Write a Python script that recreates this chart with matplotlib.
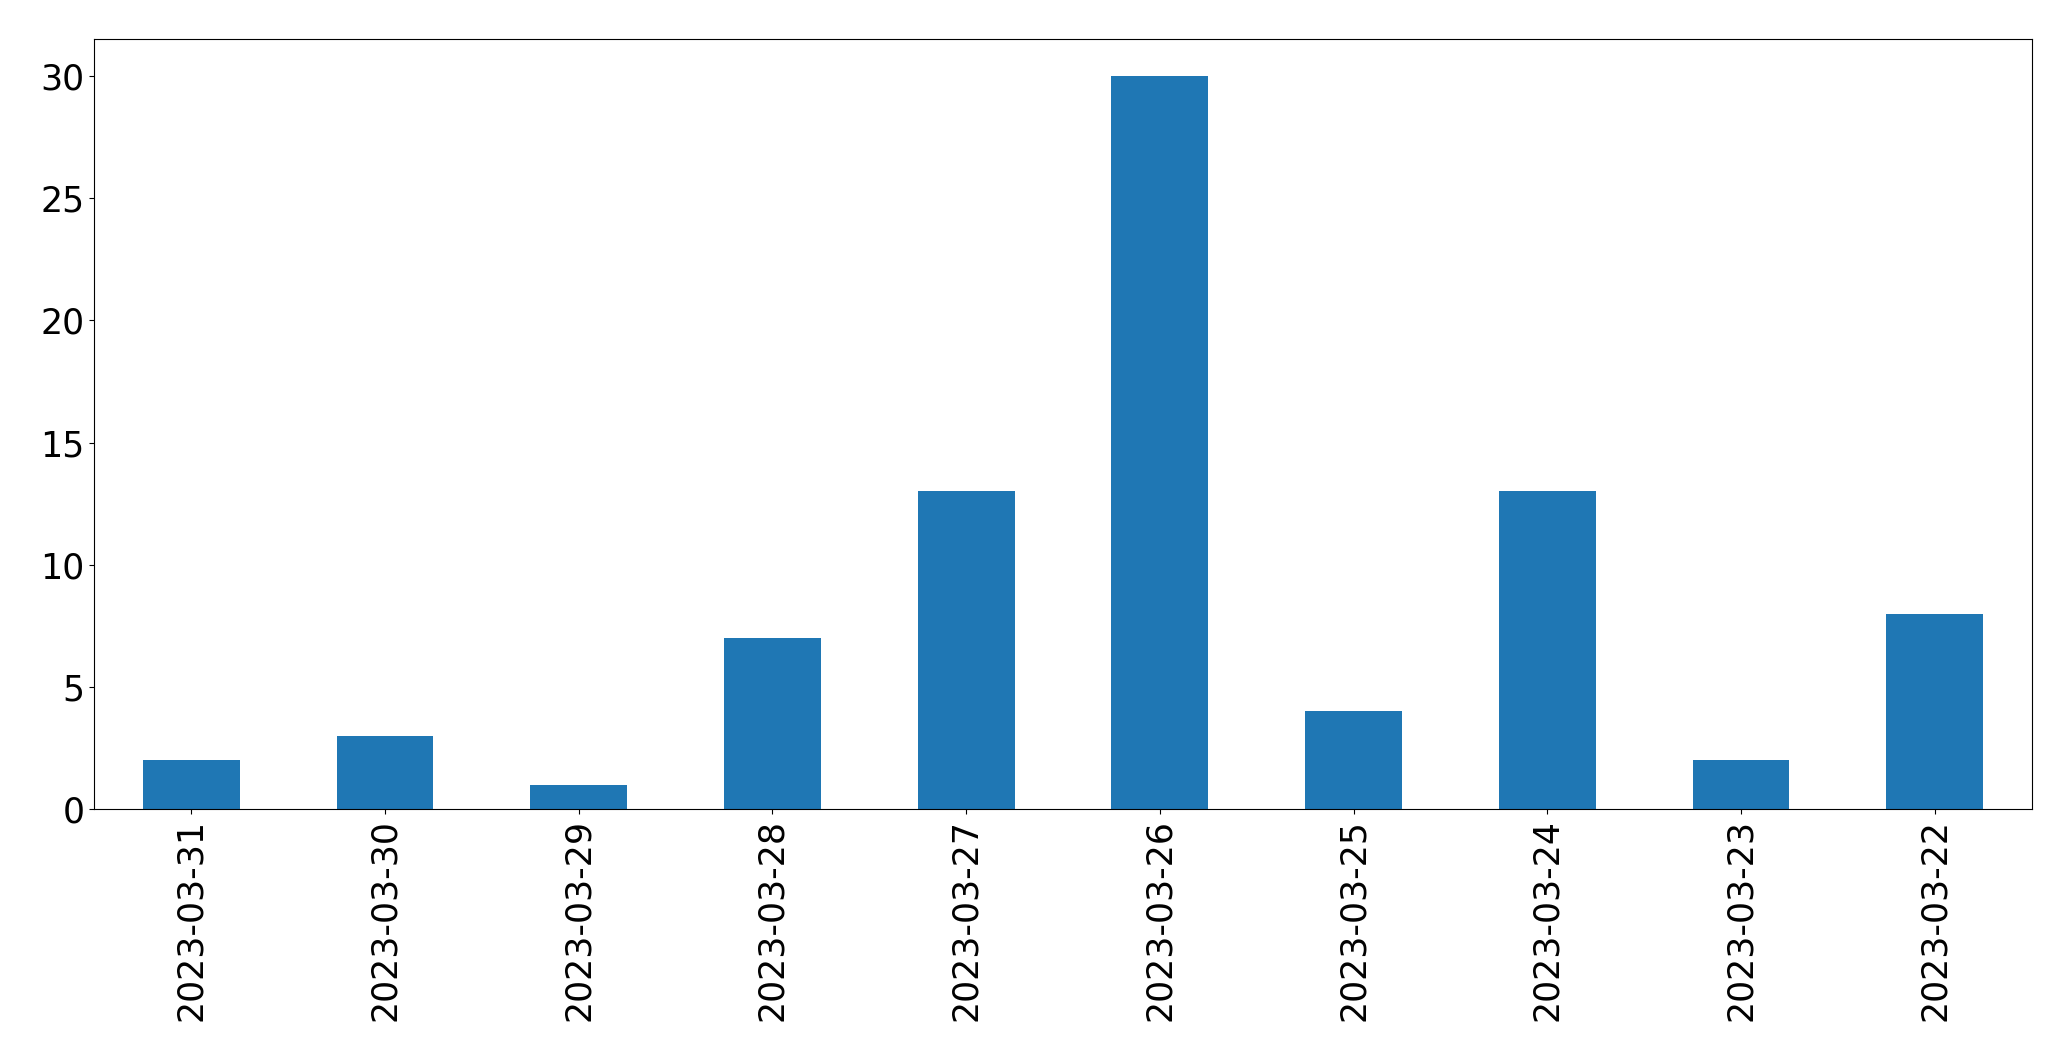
import matplotlib
matplotlib.use("Agg")
import matplotlib.pyplot as plt
import pandas as pd

# counts per day, in the order shown
dates = ['2023-03-31', '2023-03-30', '2023-03-29', '2023-03-28', '2023-03-27',
         '2023-03-26', '2023-03-25', '2023-03-24', '2023-03-23', '2023-03-22']
counts = [2, 3, 1, 7, 13, 30, 4, 13, 2, 8]

s = pd.Series(counts, index=dates)

fig = plt.figure(figsize=(20.71, 10.61), dpi=100)
ax = fig.add_axes([0.0456, 0.2375, 0.9354, 0.7253])
s.plot(kind='bar', ax=ax, color='#1f77b4')

ax.tick_params(axis='both', labelsize=25, length=3.8)
ax.set_ylim(0, 31.5)

fig.savefig('out.png', dpi=100)
